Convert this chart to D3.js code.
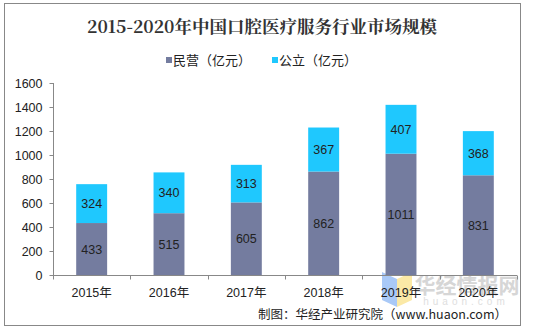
<!DOCTYPE html>
<html><head><meta charset="utf-8">
<script src="https://cdn.jsdelivr.net/npm/d3@7"></script>
<style>body{margin:0;background:#fff;}svg{display:block;}</style>
</head><body>
<script>
const categories = ["2015年","2016年","2017年","2018年","2019年","2020年"];
const privateVals = [433,515,605,862,1011,831];
const publicVals = [324,340,313,367,407,368];
const yTicks = [0,200,400,600,800,1000,1200,1400,1600];
const seriesNames = ["民营（亿元）","公立（亿元）"];
const colors = ["#747C9F","#1FC8FE"];

const W=536,H=330;
const svg=d3.select("body").append("svg").attr("width",W).attr("height",H);
const font="'Liberation Sans','DejaVu Sans','Noto Sans CJK SC',sans-serif";
svg.append("rect").attr("x",4.5).attr("y",3.5).attr("width",516).attr("height",322)
  .attr("fill","#fff").attr("stroke","#888").attr("stroke-width",1);

// watermark (behind everything)
const wm=svg.append("g");
wm.append("path").attr("d","M382,272 L397,279 L397,307 L382,300 Z").attr("fill","#a9c9f7");
wm.append("path").attr("d","M397,279 L412,272 L412,300 L397,307 Z").attr("fill","#fbe9a6");
wm.append("text").attr("x",467).attr("y",293).attr("text-anchor","middle")
  .attr("font-family","'Noto Sans CJK SC',sans-serif").attr("font-weight","bold").attr("font-size",21)
  .attr("fill","#d6d6d6").text("华经情报网");
wm.append("text").attr("x",466).attr("y",305).attr("text-anchor","middle")
  .attr("font-family",font).attr("font-size",10).attr("letter-spacing","4")
  .attr("fill","#dedede").text("huaon.com");

svg.append("text").attr("x",262).attr("y",33).attr("text-anchor","middle")
  .attr("font-family","'Noto Serif CJK SC','Noto Sans CJK SC',serif").attr("font-weight","bold")
  .attr("font-size",17.5).attr("fill","#333").text("2015-2020年中国口腔医疗服务行业市场规模");

// legend
const leg=[{x:166,name:seriesNames[0],c:colors[0]},{x:272,name:seriesNames[1],c:colors[1]}];
leg.forEach(l=>{
  svg.append("rect").attr("x",l.x).attr("y",57).attr("width",6).attr("height",6).attr("fill",l.c);
  svg.append("text").attr("x",l.x+7).attr("y",65).attr("font-family","'Noto Sans CJK SC',sans-serif")
    .attr("font-size",13).attr("fill","#222").text(l.name);
});

const x0=53,x1=517,y0=275,y1=83;
const x=d3.scaleBand().domain(categories).range([x0,x1]).paddingInner(0.6).paddingOuter(0.3);
const y=d3.scaleLinear().domain([0,1600]).range([y0,y1]);

const data=categories.map((c,i)=>({c,p:privateVals[i],q:publicVals[i]}));
const stack=d3.stack().keys(["p","q"])(data);
const g=svg.append("g");
stack.forEach((s,si)=>{
  g.selectAll(null).data(s).enter().append("rect")
    .attr("x",d=>x(d.data.c)).attr("width",x.bandwidth())
    .attr("y",d=>y(d[1])).attr("height",d=>y(d[0])-y(d[1]))
    .attr("fill",colors[si]);
  g.selectAll(null).data(s).enter().append("text")
    .attr("x",d=>x(d.data.c)+x.bandwidth()/2)
    .attr("y",d=>(y(d[0])+y(d[1]))/2+4.5)
    .attr("text-anchor","middle").attr("font-family",font).attr("font-size",12.5).attr("fill","#222")
    .text(d=>d[1]-d[0]);
});

// y axis
const ya=d3.axisLeft(y).tickValues(yTicks).tickSize(4).tickSizeOuter(0).tickFormat(d3.format("d"));
const yg=svg.append("g").attr("transform",`translate(${x0+0.5},0)`).call(ya);
yg.selectAll("path,line").attr("stroke","#888");
yg.selectAll("text").attr("font-family",font).attr("font-size",12.5).attr("fill","#222").attr("dx","-4");
yg.select(".domain").attr("d",`M0,${y0}V${y1}`);

// x axis
const xg=svg.append("g").attr("transform",`translate(0,${y0+0.5})`);
xg.append("line").attr("x1",x0).attr("x2",x1).attr("stroke","#888");
const bounds=d3.range(categories.length+1).map(i=>x0+i*(x1-x0)/categories.length);
xg.selectAll(null).data(bounds).enter().append("line")
  .attr("x1",d=>Math.round(d)+0.5).attr("x2",d=>Math.round(d)+0.5).attr("y1",0).attr("y2",4).attr("stroke","#888");

xg.selectAll(null).data(categories).enter().append("text")
  .attr("x",d=>x(d)+x.bandwidth()/2).attr("y",21)
  .attr("text-anchor","middle").attr("font-family",font).attr("font-size",12.5).attr("fill","#222").text(d=>d);

svg.append("text").attr("x",507).attr("y",319).attr("text-anchor","end")
  .attr("font-family","'Noto Sans CJK SC',sans-serif").attr("font-size",12.5).attr("fill","#222")
  .text("制图：华经产业研究院（www.huaon.com）");
</script>
</body></html>
